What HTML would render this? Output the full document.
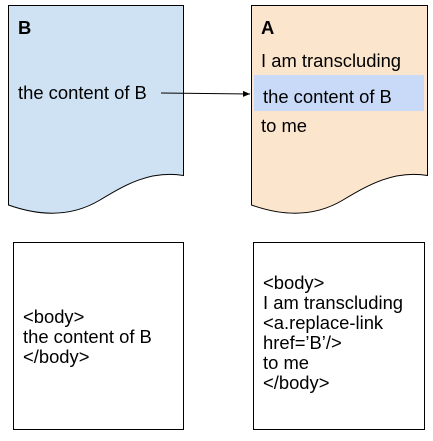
<!DOCTYPE html>
<html><head><meta charset="utf-8"><style>
body{margin:0;width:433px;height:436px;background:#fff;overflow:hidden}
svg text{font-family:"Liberation Sans",Arial,sans-serif;font-size:18.4px;fill:#000}
</style></head><body>
<svg width="433" height="436" viewBox="0 0 433 436">
<defs><marker id="ah" markerWidth="8" markerHeight="8" refX="7" refY="4" orient="auto" markerUnits="userSpaceOnUse"><path d="M0,1 L7,4 L0,7 Z" fill="#000"/></marker></defs>
<path d="M8.5,5.5 H183.5 V175.5 C150,170 125,185 100,200 C75,215 45,218 8.5,205 Z" fill="#cfe2f3" stroke="#000" stroke-width="1"/>
<path d="M251.5,5.5 H427.5 V175.5 C394,170 368,185 343,200 C318,215 288,218 251.5,205 Z" fill="#fce5cd" stroke="#000" stroke-width="1"/>
<rect x="254" y="75" width="170" height="36" fill="#c9daf8"/>
<line x1="161" y1="93" x2="250" y2="94" stroke="#000" stroke-width="1" marker-end="url(#ah)"/>
<text x="18" y="34" font-weight="bold">B</text>
<text x="18" y="99">the content of B</text>
<text x="261" y="34" font-weight="bold">A</text>
<text x="261" y="67">I am transcluding</text>
<text x="263" y="103">the content of B</text>
<text x="261" y="132">to me</text>
<rect x="13.5" y="242.5" width="170" height="187" fill="#fff" stroke="#000"/>
<rect x="253.5" y="242.5" width="171" height="187" fill="#fff" stroke="#000"/>
<text x="23" y="323">&lt;body&gt;</text>
<text x="23" y="343">the content of B</text>
<text x="23" y="363">&lt;/body&gt;</text>
<text x="263" y="289">&lt;body&gt;</text>
<text x="263" y="309">I am transcluding</text>
<text x="263" y="329">&lt;a.replace-link</text>
<text x="263" y="349">href=’B’/&gt;</text>
<text x="263" y="369">to me</text>
<text x="263" y="389">&lt;/body&gt;</text>
</svg>
</body></html>
